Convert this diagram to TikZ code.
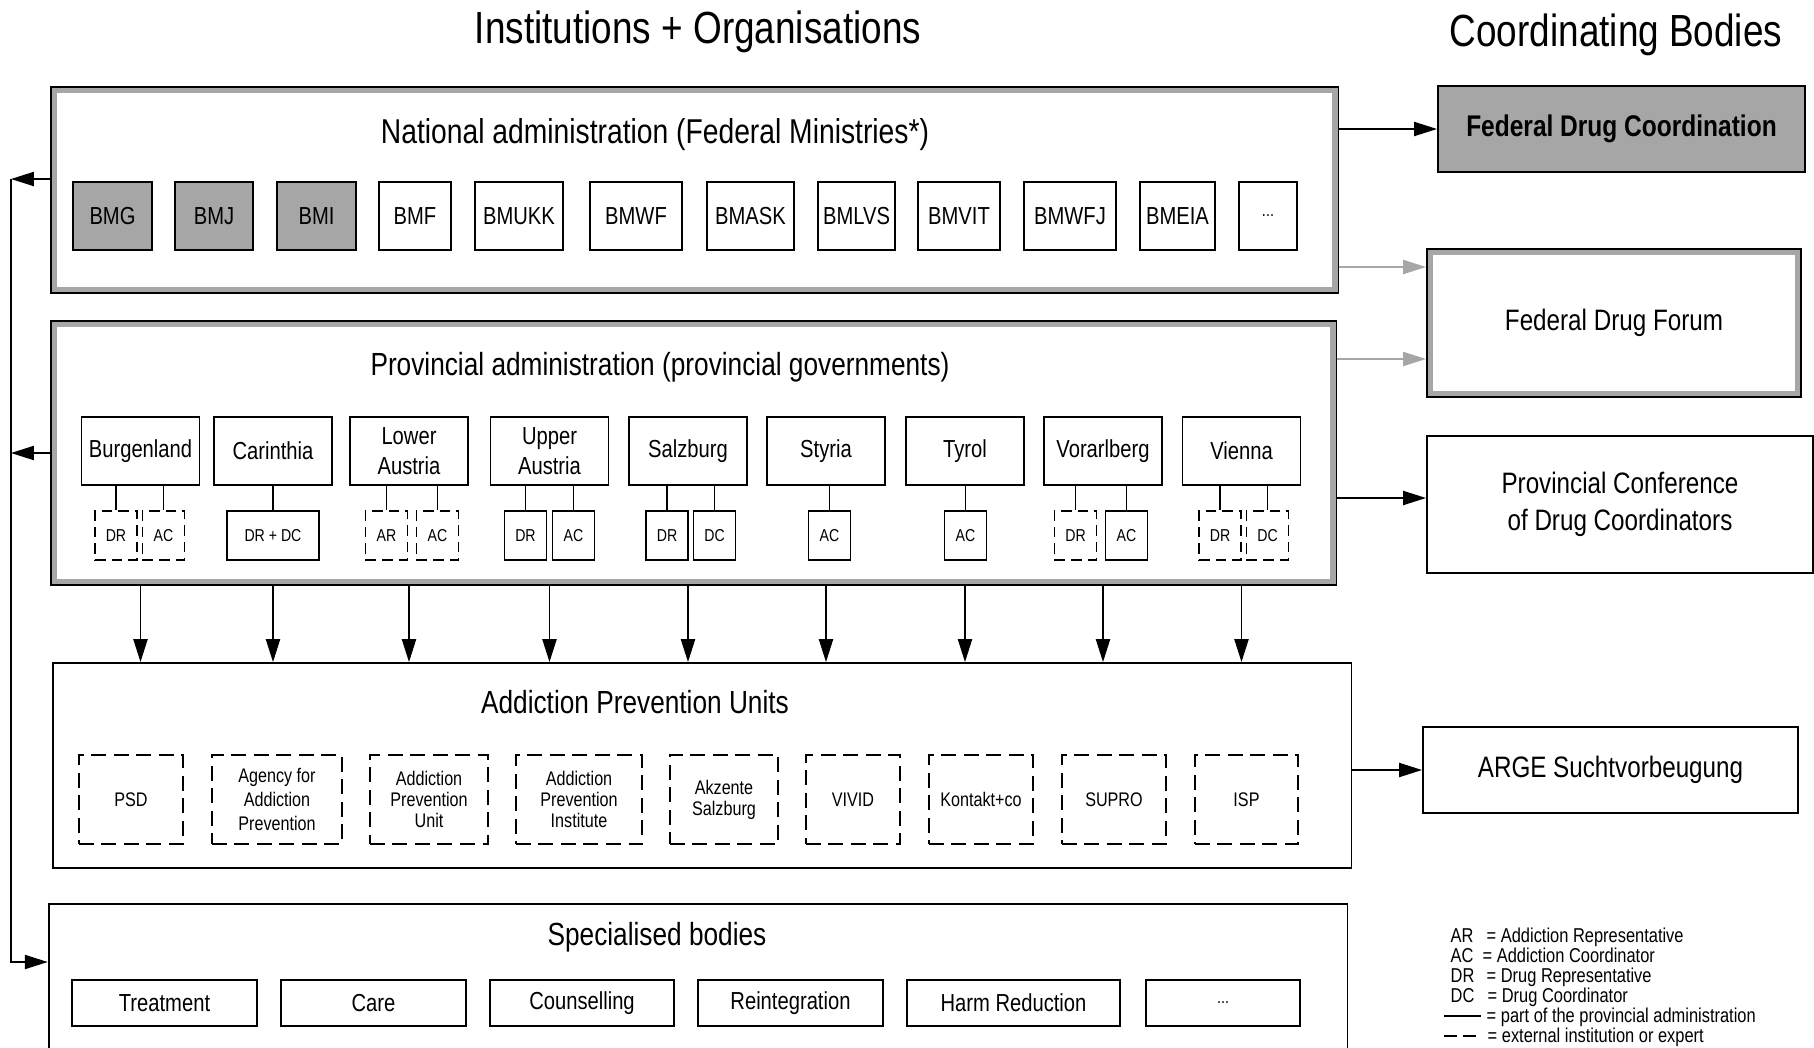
\documentclass[tikz,border=0pt]{standalone}
\usepackage{fontspec}
\setmainfont{Liberation Sans}[FakeStretch=0.82]
\usetikzlibrary{arrows.meta}

\newcommand\titlesize{\fontsize{12.8}{15}\selectfont}
\newcommand\natsize{\fontsize{9.8}{11}\selectfont}
\newcommand\headsize{\fontsize{9.1}{11}\selectfont}
\newcommand\coordsize{\fontsize{8.4}{10.5}\selectfont}
\newcommand\boxsize{\fontsize{7}{8.5}\selectfont}
\newcommand\unitsize{\fontsize{5.6}{6}\selectfont}
\newcommand\subsize{\fontsize{4.9}{6}\selectfont}
\newcommand\legsize{\fontsize{5.7}{6.5}\selectfont}
\newcommand\dotsize{\fontsize{5}{6}\selectfont}

\tikzset{
  govframe/.style={draw,line width=0.5pt,inner sep=0pt,
    path picture={\draw[black!35,line width=3.4pt]
      (path picture bounding box.south west) rectangle (path picture bounding box.north east);}},
  plainbox/.style={draw,line width=0.5pt,inner sep=0pt,align=center},
  minbox/.style={plainbox,minimum height=0.68cm,font=\boxsize},
  shaded/.style={fill=black!35},
  provbox/.style={plainbox,minimum width=1.18cm,minimum height=0.68cm,font=\boxsize},
  repbox/.style={plainbox,minimum width=0.42cm,minimum height=0.49cm,font=\subsize},
  extrep/.style={repbox,dash pattern=on 3pt off 1.7pt},
  unitbox/.style={plainbox,minimum height=0.89cm,font=\unitsize,dash pattern=on 4.2pt off 2.2pt},
  specbox/.style={plainbox,minimum height=0.46cm,font=\boxsize},
  coordbox/.style={plainbox,font=\coordsize},
  legtext/.style={anchor=base west,inner sep=0pt,font=\legsize},
  link/.style={line width=0.5pt},
  arr/.style={line width=0.5pt,-{Triangle[length=6.5pt,width=4pt]}},
  grayarr/.style={arr,color=black!35}
}

\begin{document}
\begin{tikzpicture}[x=0.01cm,y=-0.01cm]
\useasboundingbox (0,0) rectangle (1814,1048);
\clip (0,0) rectangle (1814,1048);

% column titles
\node[anchor=base,font=\titlesize] (ttlinst) at (698,43) {Institutions + Organisations};
\node[anchor=base,font=\titlesize] (ttlcoord) at (1616,46) {Coordinating Bodies};

% national administration
\node[govframe,minimum width=12.87cm,minimum height=2.06cm] (nat) at (694.5,190) {};
\node[anchor=base,font=\natsize] (natlbl) at (655,143) {National administration (Federal Ministries*)};
\node[minbox,shaded,minimum width=0.79cm] (bmg) at (112.5,216) {BMG};
\node[minbox,shaded,minimum width=0.78cm] (bmj) at (214,216) {BMJ};
\node[minbox,shaded,minimum width=0.79cm] (bmi) at (316.5,216) {BMI};
\node[minbox,minimum width=0.72cm] (bmf) at (415,216) {BMF};
\node[minbox,minimum width=0.88cm] (bmukk) at (519,216) {BMUKK};
\node[minbox,minimum width=0.92cm] (bmwf) at (636,216) {BMWF};
\node[minbox,minimum width=0.87cm] (bmask) at (750.5,216) {BMASK};
\node[minbox,minimum width=0.77cm] (bmlvs) at (856.5,216) {BMLVS};
\node[minbox,minimum width=0.82cm] (bmvit) at (959,216) {BMVIT};
\node[minbox,minimum width=0.92cm] (bmwfj) at (1070,216) {BMWFJ};
\node[minbox,minimum width=0.75cm] (bmeia) at (1177.5,216) {BMEIA};
\node[minbox,minimum width=0.58cm,font=\dotsize] (bmetc) at (1268,216) {...};

% provincial administration
\node[govframe,minimum width=12.85cm,minimum height=2.64cm] (prov) at (693.5,453) {};
\node[anchor=base,font=\headsize] (provlbl) at (660,375) {Provincial administration (provincial governments)};
\node[provbox] (burg) at (140.5,451) {Burgenland};
\node[provbox] (carin) at (273,451) {Carinthia};
\node[provbox] (lower) at (409,451) {Lower\\Austria};
\node[provbox] (upper) at (549.5,451) {Upper\\Austria};
\node[provbox] (salz) at (688,451) {Salzburg};
\node[provbox] (styr) at (826,451) {Styria};
\node[provbox] (tyrol) at (965,451) {Tyrol};
\node[provbox] (vorarl) at (1103,451) {Vorarlberg};
\node[provbox] (vienna) at (1241.5,451) {Vienna};

\node[extrep] (burgDR) at (116,535.5) {DR};
\node[extrep] (burgAC) at (163.5,535.5) {AC};
\node[repbox,minimum width=0.92cm] (carinDRDC) at (273,535.5) {DR + DC};
\node[extrep] (lowerAR) at (386.5,535.5) {AR};
\node[extrep] (lowerAC) at (437.5,535.5) {AC};
\node[repbox] (upperDR) at (525.5,535.5) {DR};
\node[repbox] (upperAC) at (573.5,535.5) {AC};
\node[repbox] (salzDR) at (667,535.5) {DR};
\node[repbox] (salzDC) at (714.5,535.5) {DC};
\node[repbox] (styrAC) at (829.5,535.5) {AC};
\node[repbox] (tyrolAC) at (965.5,535.5) {AC};
\node[extrep] (vorarlDR) at (1075.5,535.5) {DR};
\node[repbox] (vorarlAC) at (1126.5,535.5) {AC};
\node[extrep] (viennaDR) at (1220,535.5) {DR};
\node[extrep] (viennaDC) at (1267.5,535.5) {DC};

\draw[link] (burgDR |- burg.south) -- (burgDR);
\draw[link] (burgAC |- burg.south) -- (burgAC);
\draw[link] (carin.south) -- (carinDRDC);
\draw[link] (lowerAR |- lower.south) -- (lowerAR);
\draw[link] (lowerAC |- lower.south) -- (lowerAC);
\draw[link] (upperDR |- upper.south) -- (upperDR);
\draw[link] (upperAC |- upper.south) -- (upperAC);
\draw[link] (salzDR |- salz.south) -- (salzDR);
\draw[link] (salzDC |- salz.south) -- (salzDC);
\draw[link] (styrAC |- styr.south) -- (styrAC);
\draw[link] (tyrolAC |- tyrol.south) -- (tyrolAC);
\draw[link] (vorarlDR |- vorarl.south) -- (vorarlDR);
\draw[link] (vorarlAC |- vorarl.south) -- (vorarlAC);
\draw[link] (viennaDR |- vienna.south) -- (viennaDR);
\draw[link] (viennaDC |- vienna.south) -- (viennaDC);

% addiction prevention units
\node[plainbox,minimum width=12.98cm,minimum height=2.05cm] (apu) at (702,765.5) {};
\node[anchor=base,font=\headsize] (apulbl) at (635,713) {Addiction Prevention Units};
\node[unitbox,minimum width=1.04cm] (psd) at (131,799.5) {PSD};
\node[unitbox,minimum width=1.30cm,font=\fontsize{5.6}{6.9}\selectfont] (agency) at (277,799.5) {Agency for\\Addiction\\Prevention};
\node[unitbox,minimum width=1.18cm] (apunit) at (429,799.5) {Addiction\\Prevention\\Unit};
\node[unitbox,minimum width=1.26cm] (apinst) at (579,799.5) {Addiction\\Prevention\\Institute};
\node[unitbox,minimum width=1.08cm] (akzente) at (724,799.5) {Akzente\\Salzburg};
\node[unitbox,minimum width=0.94cm] (vivid) at (853,799.5) {VIVID};
\node[unitbox,minimum width=1.04cm] (kontakt) at (981,799.5) {Kontakt+co};
\node[unitbox,minimum width=1.04cm] (supro) at (1114,799.5) {SUPRO};
\node[unitbox,minimum width=1.03cm] (isp) at (1246.5,799.5) {ISP};

\draw[arr] (burg |- prov.south) -- (burg |- apu.north);
\draw[arr] (carin |- prov.south) -- (carin |- apu.north);
\draw[arr] (lower |- prov.south) -- (lower |- apu.north);
\draw[arr] (upper |- prov.south) -- (upper |- apu.north);
\draw[arr] (salz |- prov.south) -- (salz |- apu.north);
\draw[arr] (styr |- prov.south) -- (styr |- apu.north);
\draw[arr] (tyrol |- prov.south) -- (tyrol |- apu.north);
\draw[arr] (vorarl |- prov.south) -- (vorarl |- apu.north);
\draw[arr] (vienna |- prov.south) -- (vienna |- apu.north);

% specialised bodies
\node[plainbox,minimum width=12.98cm,minimum height=1.66cm] (spec) at (698,987) {};
\node[anchor=base,font=\headsize] (speclbl) at (657,945) {Specialised bodies};
\node[specbox,minimum width=1.85cm] (treat) at (164.5,1003) {Treatment};
\node[specbox,minimum width=1.85cm] (care) at (373.5,1003) {Care};
\node[specbox,minimum width=1.84cm] (couns) at (582,1003) {Counselling};
\node[specbox,minimum width=1.85cm] (reint) at (790.5,1003) {Reintegration};
\node[specbox,minimum width=2.13cm] (harm) at (1013.5,1003) {Harm Reduction};
\node[specbox,minimum width=1.54cm,font=\dotsize] (specetc) at (1223,1003) {...};

% feedback line on the left
\coordinate (fbN) at (11,179);
\coordinate (fbP) at (11,453);
\coordinate (fbS) at (11,962);
\draw[arr] (nat.west |- fbN) -- (fbN);
\draw[arr] (prov.west) -- (fbP);
\draw[arr] (fbN) -- (fbS) -- (spec.west |- fbS);

% coordinating bodies
\node[coordbox,shaded,minimum width=3.67cm,minimum height=0.86cm,font=\fontsize{8.5}{10}\selectfont\bfseries] (fdc) at (1621.5,129) {Federal Drug Coordination};
\node[govframe,minimum width=3.74cm,minimum height=1.48cm,font=\coordsize] (forum) at (1614,323) {Federal Drug Forum};
\node[coordbox,minimum width=3.86cm,minimum height=1.37cm] (conf) at (1620,504.5) {Provincial Conference\\of Drug Coordinators};
\node[coordbox,minimum width=3.75cm,minimum height=0.86cm] (arge) at (1610.5,770) {ARGE Suchtvorbeugung};

\draw[arr] (nat.east |- fdc.west) -- (fdc.west);
\draw[grayarr] (nat.east |- 0,267) -- (forum.west |- 0,267);
\draw[grayarr] (prov.east |- 0,359) -- (forum.west |- 0,359);
\draw[arr] (prov.east |- 0,498) -- (conf.west |- 0,498);
\draw[arr] (apu.east |- arge.west) -- (arge.west);

% legend
\node[legtext] (legAR) at (1450,942) {AR};
\node[legtext] (legARtxt) at (1486,942) {= Addiction Representative};
\node[legtext] (legAC) at (1450,962) {AC};
\node[legtext] (legACtxt) at (1482,962) {= Addiction Coordinator};
\node[legtext] (legDR) at (1450,982) {DR};
\node[legtext] (legDRtxt) at (1486,982) {= Drug Representative};
\node[legtext] (legDC) at (1450,1002) {DC};
\node[legtext] (legDCtxt) at (1487,1002) {= Drug Coordinator};
\draw[link] (1444,1016) -- (1481,1016);
\node[legtext] (legsolid) at (1486,1022) {= part of the provincial administration};
\draw[link,dash pattern=on 3.7pt off 1.8pt] (1444,1036) -- (1481,1036);
\node[legtext] (legdash) at (1487,1042) {= external institution or expert};
\end{tikzpicture}
\end{document}
